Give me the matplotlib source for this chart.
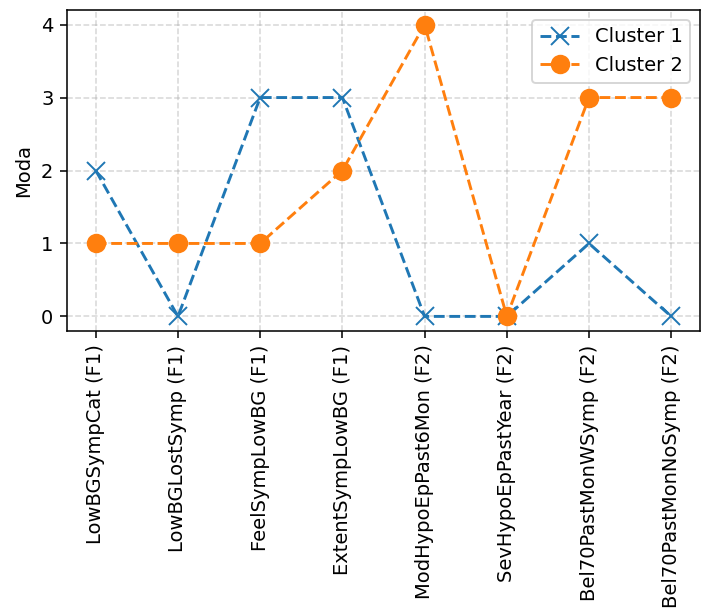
import matplotlib
matplotlib.use('Agg')
import matplotlib.pyplot as plt

# variables and modes per cluster
variables = ['LowBGSympCat (F1)', 'LowBGLostSymp (F1)', 'FeelSympLowBG (F1)',
             'ExtentSympLowBG (F1)', 'ModHypoEpPast6Mon (F2)', 'SevHypoEpPastYear (F2)',
             'Bel70PastMonWSymp (F2)', 'Bel70PastMonNoSymp (F2)']
cluster1 = [2, 0, 3, 3, 0, 0, 1, 0]
cluster2 = [1, 1, 1, 2, 4, 0, 3, 3]

dpi = 140
fig = plt.figure(figsize=(703/dpi, 608/dpi), dpi=dpi)
ax = fig.add_axes([67/703, 1 - 331/608, (700-67)/703, (331-10)/608])

ax.plot(variables, cluster1, linestyle='--', marker='x', markersize=9, label='Cluster 1')
ax.plot(variables, cluster2, linestyle='--', marker='o', markersize=9, label='Cluster 2')

ax.set_ylabel('Moda')
ax.set_yticks([0, 1, 2, 3, 4])
ax.tick_params(axis='x', rotation=90)
ax.grid(True, linestyle='--', alpha=0.5)
ax.legend(loc='upper right')

fig.savefig('out.png', dpi=dpi)
